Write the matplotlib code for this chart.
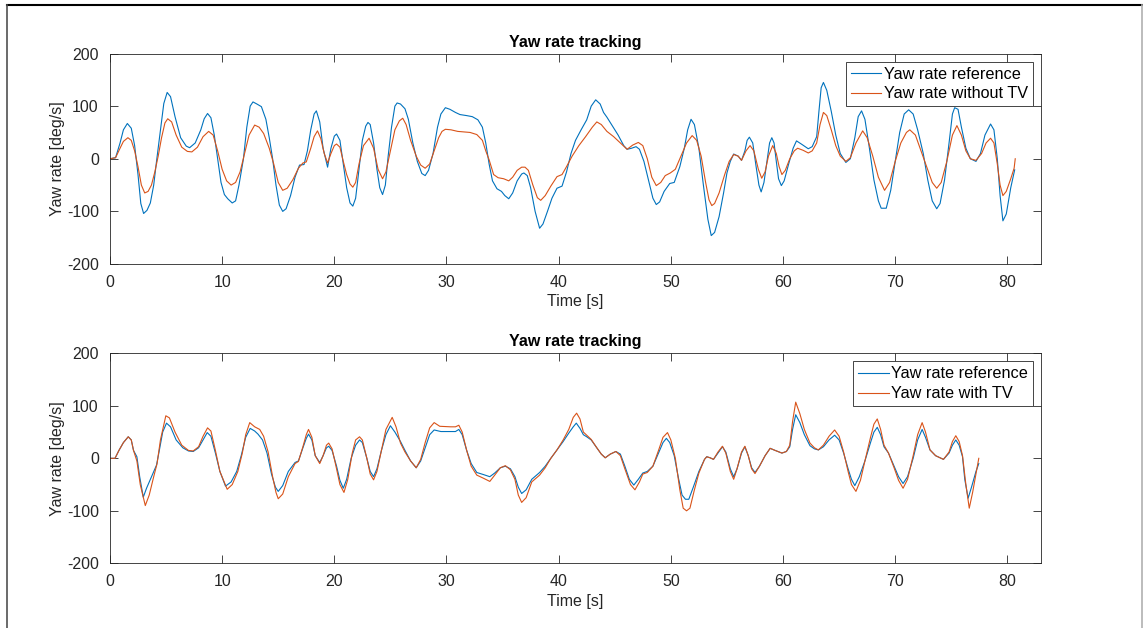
import numpy as np
import matplotlib.pyplot as plt
from matplotlib.lines import Line2D

plt.rcParams['font.family'] = ['Liberation Sans', 'DejaVu Sans']
plt.rcParams['axes.unicode_minus'] = False

# --- data: (time [s], yaw rate [deg/s]) ---
ref_top = [
    (0, 0), (0.5, 2), (0.9, 30), (1.2, 55), (1.55, 67), (1.9, 58), (2.2, 25), (2.5, -30), (2.75, -85), (3.0, -104),
    (3.3, -98), (3.6, -84), (3.9, -50), (4.15, -5), (4.5, 55), (4.8, 105), (5.1, 126), (5.4, 118), (5.8, 80), (6.3, 40),
    (6.8, 24), (7.1, 21), (7.6, 30), (8.1, 55), (8.4, 76), (8.7, 86), (9.0, 78), (9.3, 45), (9.6, 0), (9.9, -45),
    (10.2, -68), (10.5, -76), (10.9, -84), (11.2, -80), (11.5, -50), (11.9, 0), (12.2, 60), (12.5, 100), (12.75, 108), (13.1, 104),
    (13.5, 99), (13.9, 75), (14.2, 40), (14.5, 0), (14.8, -50), (15.1, -88), (15.4, -100), (15.7, -95), (16.1, -70), (16.5, -35),
    (16.9, -12), (17.3, -11), (17.6, 15), (17.9, 55), (18.2, 85), (18.4, 91), (18.7, 70), (19.0, 20), (19.4, -16), (19.7, 20),
    (20.0, 43), (20.2, 47), (20.5, 35), (20.8, -10), (21.1, -55), (21.4, -84), (21.65, -90), (21.9, -75), (22.2, -20), (22.5, 35),
    (22.8, 62), (23.0, 69), (23.2, 65), (23.5, 30), (23.8, -20), (24.05, -55), (24.3, -68), (24.55, -50), (24.8, 5), (25.1, 60),
    (25.4, 100), (25.6, 106), (25.9, 104), (26.3, 95), (26.6, 75), (27.0, 30), (27.4, -5), (27.8, -28), (28.1, -32), (28.4, -22),
    (28.8, 10), (29.2, 60), (29.5, 85), (29.9, 97), (30.3, 94), (30.8, 88), (31.2, 84), (31.8, 82), (32.3, 80), (32.8, 74),
    (33.2, 60), (33.5, 30), (33.8, -10), (34.1, -42), (34.5, -57), (34.9, -62), (35.2, -70), (35.55, -76), (35.9, -65), (36.3, -42),
    (36.7, -29), (36.9, -27), (37.2, -32), (37.5, -55), (37.9, -100), (38.3, -132), (38.6, -124), (39.0, -100), (39.4, -75), (39.85, -56),
    (40.3, -52), (40.7, -25), (41.1, 10), (41.5, 35), (42.0, 55), (42.5, 74), (42.9, 100), (43.3, 112), (43.7, 104), (44.0, 88),
    (44.3, 79), (44.8, 62), (45.3, 45), (45.8, 25), (46.1, 18), (46.5, 20), (46.9, 23), (47.2, 18), (47.6, -5), (48.0, -40),
    (48.4, -75), (48.7, -87), (49.0, -82), (49.4, -62), (49.9, -47), (50.3, -45), (50.8, -15), (51.2, 20), (51.5, 55), (51.8, 75),
    (52.1, 65), (52.5, 20), (52.9, -50), (53.3, -115), (53.6, -146), (53.9, -140), (54.3, -110), (54.7, -65), (55.0, -27), (55.3, -5),
    (55.6, 9), (56.0, 5), (56.3, -3), (56.6, 15), (56.8, 35), (57.0, 41), (57.3, 30), (57.6, -15), (57.85, -50), (58.05, -63),
    (58.3, -45), (58.6, 0), (58.8, 30), (59.0, 40), (59.2, 30), (59.4, -5), (59.6, -38), (59.85, -51), (60.1, -42), (60.5, -10),
    (60.9, 20), (61.2, 34), (61.7, 27), (62.25, 19), (62.6, 23), (63.0, 42), (63.2, 90), (63.4, 135), (63.6, 145), (63.9, 130),
    (64.3, 90), (64.7, 45), (65.1, 10), (65.6, -7), (66.0, 0), (66.4, 40), (66.7, 80), (67.0, 91), (67.3, 75), (67.7, 20),
    (68.1, -40), (68.5, -80), (68.75, -94), (69.2, -94), (69.6, -60), (70.0, -5), (70.4, 50), (70.8, 85), (71.2, 93), (71.6, 85),
    (72.0, 55), (72.5, 10), (72.9, -40), (73.3, -80), (73.7, -95), (74.0, -85), (74.4, -40), (74.8, 30), (75.1, 85), (75.3, 97),
    (75.6, 94), (75.9, 60), (76.3, 20), (76.7, 0), (77.2, -5), (77.6, 10), (78.0, 45), (78.5, 66), (78.8, 55), (79.1, 0),
    (79.35, -70), (79.6, -118), (79.9, -105), (80.3, -55), (80.65, -21),
]

no_tv = [
    (0, 0), (0.5, 2), (0.9, 20), (1.2, 33), (1.6, 40), (1.9, 35), (2.2, 15), (2.5, -15), (2.8, -50), (3.1, -65),
    (3.4, -62), (3.7, -50), (4.0, -25), (4.3, 5), (4.6, 40), (4.9, 68), (5.15, 76), (5.5, 70), (5.9, 45), (6.4, 22),
    (6.9, 14), (7.3, 13), (7.8, 22), (8.3, 42), (8.8, 52), (9.2, 45), (9.6, 15), (10.0, -20), (10.4, -42), (10.8, -50),
    (11.2, -45), (11.6, -25), (12.0, 10), (12.4, 45), (12.9, 64), (13.3, 60), (13.7, 48), (14.2, 20), (14.6, -10), (15.0, -45),
    (15.4, -60), (15.8, -56), (16.3, -40), (16.8, -18), (17.2, -8), (17.5, -6), (17.9, 20), (18.2, 42), (18.5, 53), (18.8, 38),
    (19.1, 10), (19.4, -8), (19.7, 10), (20.0, 25), (20.2, 28), (20.5, 22), (20.8, -5), (21.1, -30), (21.4, -48), (21.65, -54),
    (21.9, -45), (22.2, -10), (22.6, 25), (23.1, 39), (23.5, 20), (23.9, -20), (24.3, -38), (24.6, -25), (25.0, 15), (25.4, 55),
    (25.8, 72), (26.1, 77), (26.4, 65), (26.8, 35), (27.3, 5), (27.7, -12), (28.1, -18), (28.5, -10), (28.9, 15), (29.3, 40),
    (29.6, 52), (29.9, 56), (30.4, 55), (31.0, 52), (31.5, 51), (32.1, 50), (32.7, 46), (33.2, 35), (33.5, 15), (33.8, -2),
    (34.2, -30), (34.6, -36), (35.1, -38), (35.55, -42), (35.9, -35), (36.3, -22), (36.7, -16), (37.0, -16), (37.3, -22), (37.7, -50),
    (38.1, -74), (38.4, -79), (38.8, -70), (39.3, -52), (39.85, -34), (40.3, -30), (40.7, -15), (41.2, 5), (41.8, 25), (42.4, 42),
    (43.0, 60), (43.4, 70), (43.8, 65), (44.3, 52), (44.9, 42), (45.5, 30), (46.1, 18), (46.6, 26), (47.1, 31), (47.5, 25),
    (47.9, 0), (48.3, -35), (48.7, -51), (49.1, -45), (49.5, -32), (49.95, -27), (50.4, -20), (50.9, 5), (51.4, 30), (51.9, 44),
    (52.3, 35), (52.7, 5), (53.1, -45), (53.4, -78), (53.65, -89), (53.9, -85), (54.3, -65), (54.8, -30), (55.2, -5), (55.6, 8),
    (56.0, 5), (56.3, -3), (56.7, 15), (57.06, 25), (57.4, 15), (57.8, -20), (58.1, -37), (58.4, -25), (58.7, 5), (59.08, 25),
    (59.4, 10), (59.65, -15), (59.9, -30), (60.2, -22), (60.6, 0), (61.0, 15), (61.3, 20), (61.8, 16), (62.25, 11), (62.6, 15),
    (63.0, 30), (63.3, 65), (63.6, 88), (63.9, 82), (64.3, 55), (64.7, 25), (65.1, 5), (65.6, -5), (66.0, 2), (66.5, 30),
    (67.1, 53), (67.5, 40), (68.0, 5), (68.5, -35), (69.05, -60), (69.5, -45), (70.0, -5), (70.5, 30), (71.0, 50), (71.3, 55),
    (71.8, 45), (72.3, 15), (72.8, -15), (73.3, -45), (73.7, -56), (74.1, -45), (74.6, -5), (75.1, 45), (75.5, 63), (75.9, 45),
    (76.3, 15), (76.7, 0), (77.2, -3), (77.7, 10), (78.1, 30), (78.5, 39), (78.8, 30), (79.1, -10), (79.35, -50), (79.6, -70),
    (79.9, -62), (80.3, -38), (80.6, -18), (80.7, 0),
]

ref_bottom = [
    (0, 0), (0.45, 0), (0.8, 15), (1.2, 30), (1.63, 41), (1.9, 35), (2.1, 15), (2.4, 3), (2.65, -35), (2.97, -74),
    (3.26, -57), (3.6, -40), (4.15, -13), (4.4, 15), (4.7, 50), (5.04, 67), (5.4, 60), (5.9, 35), (6.5, 20), (7.0, 14),
    (7.42, 13), (7.9, 20), (8.3, 35), (8.67, 49), (9.0, 42), (9.4, 10), (9.8, -25), (10.3, -53), (10.8, -45), (11.3, -25),
    (11.7, 5), (12.1, 40), (12.5, 57), (12.9, 52), (13.2, 46), (13.6, 35), (14.0, 10), (14.4, -30), (14.75, -55), (15.0, -63),
    (15.4, -52), (15.9, -25), (16.5, -8), (16.8, -5), (17.2, 20), (17.5, 38), (17.7, 46), (18.0, 35), (18.3, 5), (18.7, -8),
    (19.0, 5), (19.3, 20), (19.5, 23), (19.8, 15), (20.2, -15), (20.5, -42), (20.8, -57), (21.1, -40), (21.5, 0), (21.9, 25),
    (22.25, 35), (22.5, 30), (22.9, 0), (23.2, -25), (23.5, -35), (23.8, -20), (24.2, 15), (24.6, 45), (25.0, 62), (25.4, 50),
    (25.9, 32), (26.3, 15), (26.8, -5), (27.3, -18), (27.7, -5), (28.1, 20), (28.5, 45), (28.9, 54), (29.5, 51), (30.36, 51),
    (30.8, 51), (31.1, 55), (31.4, 45), (31.8, 15), (32.2, -10), (32.7, -27), (33.3, -31), (33.86, -35), (34.3, -28), (34.8, -18),
    (35.25, -15), (35.7, -20), (36.1, -35), (36.4, -55), (36.7, -67), (37.1, -60), (37.6, -40), (38.3, -27), (38.8, -15), (39.3, 0),
    (39.85, 16), (40.4, 32), (40.9, 48), (41.3, 60), (41.57, 67), (41.9, 57), (42.2, 45), (42.5, 41), (42.9, 35), (43.4, 20),
    (43.8, 8), (44.15, 1), (44.6, 8), (45.1, 13), (45.5, 8), (45.9, -15), (46.3, -40), (46.7, -51), (47.1, -40), (47.5, -28),
    (47.9, -25), (48.4, -15), (48.9, 10), (49.3, 30), (49.6, 38), (49.9, 30), (50.3, 5), (50.7, -40), (51.0, -70), (51.3, -78),
    (51.6, -78), (52.0, -55), (52.5, -25), (53.0, -2), (53.2, 3), (53.5, 1), (53.8, -2), (54.2, 10), (54.6, 22), (54.9, 12),
    (55.3, -20), (55.6, -35), (55.9, -20), (56.3, 10), (56.6, 22), (56.9, 5), (57.2, -18), (57.5, -27), (57.9, -15), (58.4, 5),
    (58.85, 19), (59.3, 15), (59.9, 10), (60.3, 13), (60.6, 22), (60.85, 55), (61.13, 83), (61.5, 68), (61.9, 45), (62.4, 24),
    (62.8, 18), (63.15, 16), (63.6, 22), (64.1, 35), (64.6, 44), (65.0, 35), (65.4, 10), (65.8, -20), (66.1, -40), (66.4, -52),
    (66.8, -35), (67.3, -5), (67.8, 30), (68.1, 50), (68.4, 59), (68.7, 45), (69.0, 22), (69.4, 10), (69.9, -15), (70.3, -35),
    (70.7, -48), (71.1, -35), (71.6, 0), (72.0, 35), (72.4, 55), (72.7, 40), (73.1, 16), (73.6, 5), (74.3, -2), (74.8, 10),
    (75.1, 25), (75.4, 35), (75.7, 25), (76.0, 3), (76.2, -40), (76.5, -76), (76.8, -55), (77.2, -25), (77.45, -10),
]

with_tv = [
    (0, 0), (0.45, 0), (0.8, 15), (1.2, 30), (1.63, 41), (1.9, 35), (2.1, 15), (2.4, -5), (2.7, -50), (3.15, -90),
    (3.5, -70), (3.9, -35), (4.2, -10), (4.5, 35), (4.98, 81), (5.3, 77), (5.8, 50), (6.4, 25), (7.0, 15), (7.42, 14),
    (7.9, 22), (8.3, 42), (8.7, 58), (9.0, 52), (9.4, 15), (9.8, -25), (10.45, -59), (10.9, -50), (11.4, -25), (11.8, 10),
    (12.1, 45), (12.46, 68), (12.9, 60), (13.35, 55), (13.7, 42), (14.1, 12), (14.5, -35), (14.8, -65), (15.0, -77), (15.4, -68),
    (15.9, -35), (16.5, -10), (16.8, -6), (17.2, 22), (17.5, 45), (17.7, 55), (18.0, 40), (18.3, 5), (18.7, -10), (19.0, 5),
    (19.3, 25), (19.5, 29), (19.8, 18), (20.2, -20), (20.5, -50), (20.86, -65), (21.2, -40), (21.6, 10), (21.9, 35), (22.25, 41),
    (22.5, 35), (22.9, 0), (23.2, -30), (23.5, -41), (23.8, -25), (24.2, 15), (24.6, 55), (25.16, 78), (25.5, 60), (25.9, 29),
    (26.3, 12), (26.8, -5), (27.3, -18), (27.7, -2), (28.1, 30), (28.5, 58), (28.9, 68), (29.4, 61), (30.36, 60), (30.8, 60),
    (31.1, 63), (31.4, 50), (31.8, 15), (32.2, -15), (32.7, -32), (33.3, -38), (33.86, -44), (34.3, -32), (34.8, -18), (35.25, -14),
    (35.7, -22), (36.1, -40), (36.4, -70), (36.7, -84), (37.1, -75), (37.6, -45), (38.3, -32), (38.8, -18), (39.3, 0), (39.85, 16),
    (40.4, 35), (40.9, 55), (41.3, 78), (41.6, 86), (41.9, 75), (42.2, 50), (42.5, 44), (42.9, 36), (43.4, 20), (43.8, 8),
    (44.15, 1), (44.6, 8), (45.1, 13), (45.5, 5), (45.9, -20), (46.4, -50), (46.8, -60), (47.2, -45), (47.5, -30), (47.9, -27),
    (48.4, -15), (48.9, 15), (49.3, 40), (49.7, 49), (50.0, 35), (50.4, 0), (50.8, -60), (51.1, -95), (51.4, -100), (51.7, -95),
    (52.1, -60), (52.5, -28), (53.0, -2), (53.2, 3), (53.5, 1), (53.8, -2), (54.2, 12), (54.6, 23), (54.9, 10), (55.3, -25),
    (55.6, -40), (55.9, -20), (56.3, 12), (56.6, 23), (56.9, 5), (57.2, -20), (57.5, -29), (57.9, -15), (58.4, 5), (58.85, 19),
    (59.3, 15), (59.9, 10), (60.3, 13), (60.6, 25), (60.85, 70), (61.13, 107), (61.5, 85), (61.9, 55), (62.4, 29), (62.8, 20),
    (63.15, 16), (63.6, 25), (64.1, 42), (64.6, 54), (65.0, 42), (65.4, 12), (65.8, -25), (66.1, -50), (66.5, -63), (66.9, -42),
    (67.3, -5), (67.8, 40), (68.1, 65), (68.4, 75), (68.7, 55), (69.0, 25), (69.4, 10), (69.9, -18), (70.3, -42), (70.7, -57),
    (71.1, -40), (71.6, 5), (72.0, 45), (72.4, 68), (72.7, 50), (73.1, 16), (73.6, 5), (74.3, -2), (74.8, 12), (75.1, 32),
    (75.4, 43), (75.7, 32), (76.0, 5), (76.3, -50), (76.6, -95), (76.9, -65), (77.2, -30), (77.45, 0),
]

x_ticks = [0, 10, 20, 30, 40, 50, 60, 70, 80]
y_ticks = [-200, -100, 0, 100, 200]

BLUE = '#0072BD'
ORANGE = '#D95319'
AX_COLOR = '#262626'

fig = plt.figure(figsize=(11.43, 6.28), dpi=100)
fig.patch.set_facecolor('white')

# frame around the figure, as in the screenshot
fig.add_artist(Line2D([7 / 1143, 1143 / 1143], [1 - 5 / 628, 1 - 5 / 628], color='black', lw=1.5))
fig.add_artist(Line2D([7 / 1143, 7 / 1143], [0, 1 - 5 / 628], color='#505050', lw=1.2))
fig.add_artist(Line2D([1141.5 / 1143, 1141.5 / 1143], [0, 1 - 5 / 628], color='#b0b0b0', lw=1.2))

panels = [
    ([0.0962, 0.5796, 0.8146, 0.3352], ref_top, no_tv, 'Yaw rate without TV'),
    ([0.0962, 0.1030, 0.8146, 0.3344], ref_bottom, with_tv, 'Yaw rate with TV'),
]

for rect, ref, ctrl, ctrl_label in panels:
    ax = fig.add_axes(rect)
    ref = np.array(ref)
    ctrl = np.array(ctrl)
    ax.plot(ref[:, 0], ref[:, 1], color=BLUE, lw=0.8, label='Yaw rate reference')
    ax.plot(ctrl[:, 0], ctrl[:, 1], color=ORANGE, lw=0.8, label=ctrl_label)

    ax.set_xlim(0, 83)
    ax.set_ylim(-200, 200)
    ax.set_xticks(x_ticks)
    ax.set_yticks(y_ticks)
    ax.tick_params(direction='in', length=6, width=0.6, top=True, right=True,
                   labelsize=11.5, colors=AX_COLOR)
    ax.tick_params(axis='x', pad=8)
    ax.tick_params(axis='y', pad=8)
    for sp in ax.spines.values():
        sp.set_color(AX_COLOR)
        sp.set_linewidth(0.6)

    ax.set_xlabel('Time [s]', fontsize=11.5, color=AX_COLOR, labelpad=3)
    ax.set_ylabel('Yaw rate [deg/s]', fontsize=11.5, color=AX_COLOR, labelpad=1)
    ax.set_title('Yaw rate tracking', fontsize=11.5, fontweight='bold', pad=5)

    leg = ax.legend(loc='upper right', fontsize=11.7, fancybox=False, framealpha=1,
                    edgecolor=AX_COLOR, handlelength=1.9, handletextpad=0.15,
                    borderpad=0.3, labelspacing=0.3, borderaxespad=0.5)
    leg.get_frame().set_linewidth(0.6)

plt.savefig('out.png', dpi=100)
